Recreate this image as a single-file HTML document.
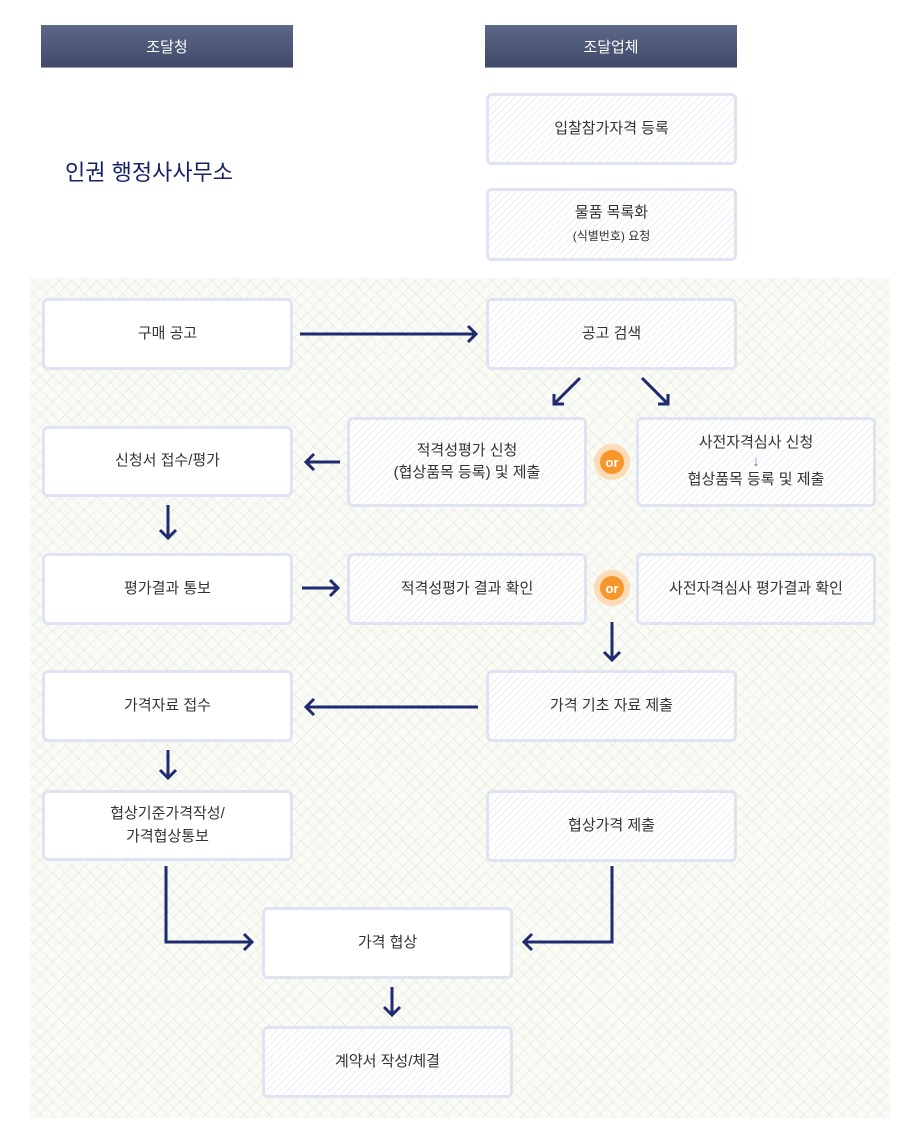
<!DOCTYPE html>
<html><head><meta charset="utf-8"><style>
body{margin:0;width:924px;height:1123px;background:#fff;position:relative;overflow:hidden;font-family:"Liberation Sans","Noto Sans CJK KR",sans-serif}
.hd{position:absolute;height:42px;width:252px;background:linear-gradient(#5d6888,#3f4968);color:#fff;font-size:15px;display:flex;align-items:center;justify-content:center;box-shadow:0 1px 0 #99a}
.bg{position:absolute;left:30px;top:278px;width:860px;height:840px;background-color:#fbfbf6;background-image:repeating-linear-gradient(45deg,rgba(200,220,205,.35) 0 1px,transparent 1px 9px),repeating-linear-gradient(-45deg,rgba(200,220,205,.35) 0 1px,transparent 1px 9px)}
.b{position:absolute;box-sizing:border-box;border:3px solid #e0e3f1;border-radius:6px;background:#fff;display:flex;align-items:center;justify-content:center;text-align:center;font-size:15px;color:#333;line-height:1.5}
.h{background:#fff repeating-linear-gradient(-45deg,#eceef6 0 1px,#fff 1px 5px)}
.or{position:absolute;width:24px;height:24px;border-radius:50%;background:#f7962b;box-shadow:0 0 0 6px #fbdcb6;color:#fff;font-size:13px;font-weight:bold;display:flex;align-items:center;justify-content:center}
</style></head><body>
<div class="hd" style="left:41px;top:25px">조달청</div>
<div class="hd" style="left:485px;top:25px">조달업체</div>
<div class="b h" style="left:486px;top:93px;width:251px;height:72px">입찰참가자격 등록</div>
<div class="b h" style="left:486px;top:188px;width:251px;height:73px"><div>물품 목록화<br><span style="font-size:12px">(식별번호) 요청</span></div></div>
<div style="position:absolute;left:65px;top:155px;font-size:22px;color:#14226a">인권 행정사사무소</div>
<div class="bg"></div>
<div class="b" style="left:42px;top:298px;width:251px;height:72px">구매 공고</div>
<div class="b h" style="left:486px;top:298px;width:251px;height:72px">공고 검색</div>
<div class="b" style="left:42px;top:426px;width:251px;height:71px">신청서 접수/평가</div>
<div class="b h" style="left:347px;top:417px;width:240px;height:90px"><div>적격성평가 신청<br>(협상품목 등록) 및 제출</div></div>
<div class="b h" style="left:636px;top:417px;width:240px;height:90px;line-height:1.25"><div>사전자격심사 신청<br><span style="color:#6a78c8;font-weight:bold">↓</span><br>협상품목 등록 및 제출</div></div>
<div class="or" style="left:600px;top:450px">or</div>
<div class="b" style="left:42px;top:553px;width:251px;height:72px">평가결과 통보</div>
<div class="b h" style="left:347px;top:553px;width:240px;height:72px">적격성평가 결과 확인</div>
<div class="b h" style="left:636px;top:553px;width:240px;height:72px">사전자격심사 평가결과 확인</div>
<div class="or" style="left:600px;top:576px">or</div>
<div class="b" style="left:42px;top:670px;width:251px;height:72px">가격자료 접수</div>
<div class="b h" style="left:486px;top:670px;width:251px;height:72px">가격 기초 자료 제출</div>
<div class="b" style="left:42px;top:790px;width:251px;height:71px"><div>협상기준가격작성/<br>가격협상통보</div></div>
<div class="b h" style="left:486px;top:790px;width:251px;height:72px">협상가격 제출</div>
<div class="b" style="left:262px;top:907px;width:251px;height:72px">가격 협상</div>
<div class="b h" style="left:262px;top:1026px;width:251px;height:72px">계약서 작성/체결</div>
<svg width="924" height="1123" style="position:absolute;left:0;top:0" fill="none" stroke="#1f2a70" stroke-width="3">
<path d="M300 334H476M468 326l8 8-8 8"/>
<path d="M580 378L554 404M554 394v10h10"/>
<path d="M642 378L668 404M668 394v10h-10"/>
<path d="M340 462H306M314 454l-8 8 8 8"/>
<path d="M168 505V538M160 530l8 8 8-8"/>
<path d="M302 588H338M330 580l8 8-8 8"/>
<path d="M612 622V660M604 652l8 8 8-8"/>
<path d="M478 707H306M314 699l-8 8 8 8"/>
<path d="M168 750V778M160 770l8 8 8-8"/>
<path d="M166 866V942H252M244 934l8 8-8 8"/>
<path d="M612 866V942H524M532 934l-8 8 8 8"/>
<path d="M392 987V1015M384 1007l8 8 8-8"/>
</svg>
</body></html>
